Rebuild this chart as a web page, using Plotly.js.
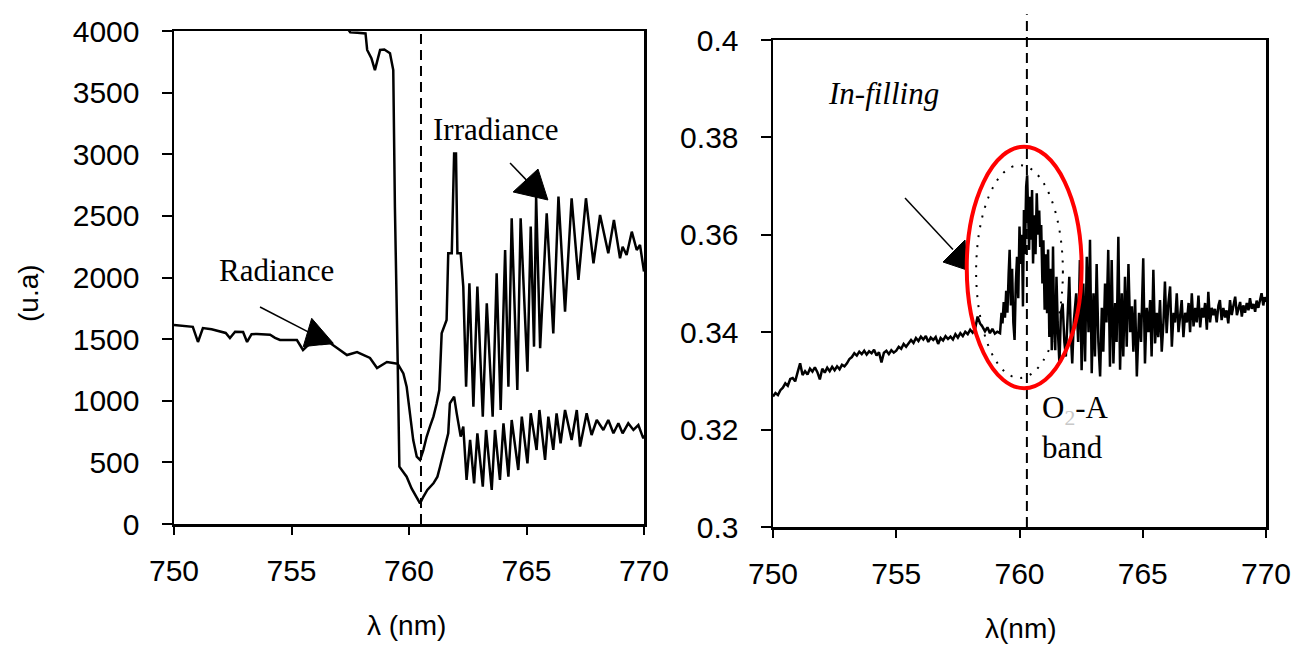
<!DOCTYPE html>
<html>
<head>
<meta charset="utf-8">
<script src="https://cdn.plot.ly/plotly-3.0.1.min.js"></script>
<style>html,body{margin:0;padding:0;background:#fff;}#chart{width:1292px;height:652px;}</style>
</head>
<body>
<div id="chart"></div>
<script>
// ---------- Left panel: Irradiance (upper curve) ----------
const irrWl = [750.0,751.0,752.0,753.0,754.0,755.0,756.0,756.8,757.3,757.5,757.8,758.15,758.22,758.4,758.55,758.65,758.77,758.95,759.19,759.33,759.4,759.52,
 759.76,759.9,760.04,760.18,760.33,760.47,760.61,760.75,760.89,761.04,761.18,761.29,761.39,761.5,761.6,761.67,761.82,761.92,762.0,762.06,762.2,762.31,
 762.43,762.57,762.74,762.91,763.14,763.31,763.56,763.73,763.9,764.09,764.23,764.37,764.61,764.75,765.04,765.18,765.32,765.41,765.58,765.86,766.14,766.36,
 766.64,766.92,767.21,767.53,767.85,768.13,768.48,768.72,768.98,769.09,769.26,769.48,769.69,769.83,770.0];
const irrVal = [4940,4800,4660,4540,4430,4330,4240,4130,4040,3990,3985,3980,3846,3780,3683,3750,3846,3850,3819,3683,2574,1300,
 1222,1114,898,681,546,519,600,708,790,871,979,1087,1547,1600,1655,2196,2196,3007,3007,2196,2196,1926,
 1114,1953,952,1926,871,1791,871,2034,925,2223,1114,2480,1087,2480,1236,2413,1439,2656,1426,2521,1547,2656,
 1723,2643,1980,2643,2115,2507,2196,2467,2156,2250,2183,2372,2223,2264,2048];

// ---------- Left panel: Radiance (lower curve) ----------
const radWl = [750.0,750.4,750.8,751.02,751.23,751.6,751.96,752.2,752.38,752.6,752.94,753.11,753.3,753.53,754.09,754.3,754.51,755.0,755.23,755.49,755.8,
 756.3,756.64,756.94,757.36,757.79,758.34,758.64,759.06,759.32,759.52,759.59,759.9,760.11,760.26,760.47,760.61,760.78,761.04,761.21,761.32,761.46,
 761.67,761.74,761.92,762.03,762.2,762.31,762.45,762.6,762.77,762.91,763.14,763.28,763.52,763.66,763.87,764.02,764.23,764.37,764.65,764.8,765.04,
 765.18,765.43,765.55,765.79,765.93,766.14,766.28,766.45,766.64,766.92,767.14,767.28,767.56,767.77,767.99,768.27,768.48,768.7,768.91,769.09,769.33,
 769.55,769.76,769.97,770.0];
const radVal = [1615,1610,1600,1477,1590,1580,1560,1550,1509,1560,1558,1477,1540,1542,1535,1510,1493,1490,1493,1412,1468,
 1460,1468,1428,1371,1395,1347,1266,1314,1306,1300,465,384,289,235,167,221,276,330,384,465,573,
 735,979,1033,898,709,790,357,682,330,736,303,763,276,763,357,817,384,844,438,871,492,
 898,601,925,520,871,601,898,655,925,682,925,628,898,722,844,763,844,736,817,736,817,
 763,803,695,720];

// ---------- Right panel: ratio (in-filling) ----------
const ratWl = [750.0,750.1,750.2,750.3,750.4,750.5,750.6,750.7,750.8,750.9,751.0,751.1,751.2,751.3,751.4,751.5,751.6,751.7,751.8,751.9,
 752.0,752.1,752.2,752.3,752.4,752.5,752.6,752.7,752.8,752.9,753.0,753.1,753.2,753.3,753.4,753.5,753.6,753.7,753.8,753.9,
 754.0,754.1,754.2,754.3,754.4,754.5,754.6,754.7,754.8,754.9,755.0,755.1,755.2,755.3,755.4,755.5,755.6,755.7,755.8,755.9,
 756.0,756.1,756.2,756.3,756.4,756.5,756.6,756.7,756.8,756.9,757.0,757.1,757.2,757.3,757.4,757.5,757.6,757.7,757.8,757.9,
 758.0,758.1,758.2,758.3,758.4,758.5,758.6,758.7,758.8,758.9,759.0,759.1,759.21,759.27,759.31,759.36,759.41,759.46,759.51,759.56,
 759.6,759.65,759.7,759.75,759.8,759.85,759.9,759.95,760.0,760.05,760.1,760.14,760.18,760.22,760.27,760.31,760.35,760.39,760.43,760.47,
 760.51,760.55,760.6,760.65,760.7,760.75,760.8,760.84,760.88,760.93,760.97,761.02,761.07,761.12,761.16,761.21,761.26,761.31,761.36,761.4,
 761.45,761.5,761.56,761.62,761.68,761.75,761.82,761.88,761.95,762.02,762.08,762.14,762.2,762.3,762.38,762.45,762.52,762.59,762.66,762.73,
 762.8,762.86,762.93,763.0,763.06,763.13,763.2,763.27,763.34,763.4,763.47,763.53,763.6,763.67,763.74,763.81,763.88,763.94,764.01,764.08,
 764.15,764.21,764.28,764.35,764.42,764.49,764.56,764.62,764.69,764.76,764.85,764.93,765.02,765.09,765.16,765.23,765.3,765.36,765.43,765.5,
 765.57,765.63,765.7,765.77,765.84,765.9,765.97,766.04,766.11,766.18,766.25,766.31,766.38,766.45,766.51,766.58,766.65,766.72,766.79,766.86,
 766.92,766.99,767.06,767.13,767.19,767.26,767.33,767.4,767.46,767.53,767.6,767.66,767.73,767.8,767.87,767.93,768.0,768.07,768.13,768.2,
 768.27,768.34,768.4,768.47,768.54,768.61,768.68,768.75,768.82,768.88,768.95,769.02,769.08,769.15,769.22,769.29,769.35,769.42,769.49,769.56,
 769.62,769.69,769.76,769.82,769.89,769.95,770.0];
const ratVal = [0.3268,0.3275,0.3271,0.3281,0.3286,0.3295,0.3290,0.3304,0.3306,0.3299,0.3318,0.3336,0.3312,0.3320,0.3313,0.3325,0.3319,0.3328,0.3318,0.3303,
 0.3325,0.3317,0.3327,0.3320,0.3329,0.3322,0.3330,0.3324,0.3333,0.3330,0.3336,0.3345,0.3349,0.3357,0.3352,0.3360,0.3355,0.3362,0.3354,0.3361,
 0.3357,0.3364,0.3352,0.3359,0.3338,0.3358,0.3362,0.3355,0.3363,0.3358,0.3362,0.3370,0.3366,0.3376,0.3370,0.3378,0.3384,0.3378,0.3388,0.3382,
 0.3391,0.3385,0.3392,0.3380,0.3389,0.3384,0.3390,0.3376,0.3388,0.3383,0.3392,0.3386,0.3391,0.3385,0.3396,0.3389,0.3398,0.3392,0.3401,0.3396,
 0.3405,0.3399,0.3407,0.3432,0.3418,0.3411,0.3402,0.3410,0.3398,0.3407,0.3397,0.3401,0.3398,0.3440,0.3418,0.3462,0.3430,0.3485,0.3440,0.3520,
 0.3569,0.3455,0.3530,0.3420,0.3384,0.3500,0.3555,0.3470,0.3617,0.3540,0.3600,0.3453,0.3651,0.3560,0.3699,0.3722,0.3600,0.3569,0.3678,0.3590,
 0.3692,0.3541,0.3640,0.3560,0.3685,0.3600,0.3650,0.3575,0.3620,0.3500,0.3589,0.3446,0.3560,0.3439,0.3570,0.3390,0.3530,0.3363,0.3576,0.3420,
 0.3363,0.3514,0.3400,0.3336,0.3440,0.3459,0.3380,0.3350,0.3430,0.3514,0.3400,0.3336,0.3420,0.3480,0.3380,0.3548,0.3322,0.3500,0.3340,0.3555,
 0.3400,0.3590,0.3316,0.3480,0.3350,0.3540,0.3380,0.3309,0.3450,0.3360,0.3500,0.3420,0.3569,0.3329,0.3548,0.3336,0.3460,0.3380,0.3596,0.3323,
 0.3480,0.3350,0.3514,0.3370,0.3540,0.3400,0.3453,0.3360,0.3467,0.3309,0.3440,0.3380,0.3552,0.3336,0.3450,0.3400,0.3466,0.3350,0.3528,0.3377,
 0.3440,0.3390,0.3466,0.3360,0.3420,0.3504,0.3398,0.3460,0.3494,0.3370,0.3440,0.3420,0.3480,0.3400,0.3430,0.3466,0.3390,0.3440,0.3420,0.3460,
 0.3400,0.3480,0.3412,0.3450,0.3420,0.3475,0.3410,0.3450,0.3430,0.3460,0.3405,0.3483,0.3420,0.3450,0.3435,0.3448,0.3420,0.3455,0.3466,0.3425,
 0.3450,0.3430,0.3445,0.3418,0.3466,0.3435,0.3455,0.3473,0.3435,0.3450,0.3462,0.3432,0.3455,0.3440,0.3460,0.3445,0.3470,0.3448,0.3458,0.3442,
 0.3465,0.3450,0.3470,0.3480,0.3455,0.3472,0.3462];

// ---------- Axis ticks ----------
const xTicks = [750, 755, 760, 765, 770];
const yLeftTicks = [0, 500, 1000, 1500, 2000, 2500, 3000, 3500, 4000];
const yRightTicks = [0.3, 0.32, 0.34, 0.36, 0.38, 0.4];
const yRightLabels = ['0.3', '0.32', '0.34', '0.36', '0.38', '0.4'];

const sans = 'Liberation Sans, Arial, sans-serif';
const serif = 'Liberation Serif, Times New Roman, serif';
const tickFont = {family: sans, size: 30, color: '#000'};

const lineLeft = {color: '#000', width: 2.5};
const lineRight = {color: '#000', width: 2.5};
const traces = [
  {x: irrWl, y: irrVal, type: 'scatter', mode: 'lines', line: lineLeft, xaxis: 'x', yaxis: 'y', name: 'Irradiance'},
  {x: radWl, y: radVal, type: 'scatter', mode: 'lines', line: lineLeft, xaxis: 'x', yaxis: 'y', name: 'Radiance'},
  {x: ratWl, y: ratVal, type: 'scatter', mode: 'lines', line: lineRight, xaxis: 'x2', yaxis: 'y2', name: 'In-filling'}
];

const W = 1292, H = 652;
const axCommon = {
  showline: true, mirror: true, linecolor: '#000', linewidth: 2.5,
  ticks: 'outside', tickcolor: '#000', tickwidth: 2,
  showgrid: false, zeroline: false, tickfont: tickFont, fixedrange: true
};

const layout = {
  width: W, height: H,
  margin: {l: 0, r: 0, t: 0, b: 0},
  paper_bgcolor: '#fff', plot_bgcolor: '#fff',
  showlegend: false,
  xaxis: Object.assign({}, axCommon, {domain: [174/W, 644/W], range: [750, 770], tickvals: xTicks, ticklen: 8, ticklabelstandoff: 10, anchor: 'y'}),
  yaxis: Object.assign({}, axCommon, {domain: [(H-524)/H, (H-31)/H], range: [0, 4000], tickvals: yLeftTicks, ticklen: 10, ticklabelstandoff: 16, anchor: 'x'}),
  xaxis2: Object.assign({}, axCommon, {domain: [773/W, 1266/W], range: [750, 770], tickvals: xTicks, ticklen: 8, ticklabelstandoff: 10, anchor: 'y2'}),
  yaxis2: Object.assign({}, axCommon, {domain: [(H-527)/H, (H-40)/H], range: [0.3, 0.4], tickvals: yRightTicks, ticktext: yRightLabels, ticklen: 10, ticklabelstandoff: 16, anchor: 'x2'}),
  shapes: [
    {type: 'line', xref: 'x', yref: 'y domain', x0: 760.51, x1: 760.51, y0: 0, y1: 1, line: {color: '#000', width: 2, dash: '10px,6px'}},
    {type: 'line', xref: 'x2', yref: 'y2 domain', x0: 760.3, x1: 760.3, y0: 0, y1: 1.053, line: {color: '#000', width: 2, dash: '10px,6px'}},
    // radiance arrow
    {type: 'line', xref: 'x', yref: 'y', x0: 753.66, y0: 1761, x1: 755.75, y1: 1555, line: {color: '#000', width: 1.5}},
    {type: 'path', xref: 'x', yref: 'y', path: 'M 755.86 1669 L 755.50 1439 L 756.78 1466 Z', fillcolor: '#000', line: {color: '#000', width: 1}},
    // irradiance arrow
    {type: 'line', xref: 'x', yref: 'y', x0: 764.30, y0: 2929, x1: 765.0, y1: 2790, line: {color: '#000', width: 1.5}},
    {type: 'path', xref: 'x', yref: 'y', path: 'M 765.49 2880 L 764.43 2694 L 765.91 2629 Z', fillcolor: '#000', line: {color: '#000', width: 1}},
    // in-filling arrow
    {type: 'line', xref: 'x2', yref: 'y2', x0: 755.355, y0: 0.36756, x1: 757.30, y1: 0.3570, line: {color: '#000', width: 1.5}},
    {type: 'path', xref: 'x2', yref: 'y2', path: 'M 757.789 0.35893 L 756.897 0.35441 L 757.870 0.35277 Z', fillcolor: '#000', line: {color: '#000', width: 1}},
    // dotted ellipse
    {type: 'circle', xref: 'x2', yref: 'y2', x0: 758.24, x1: 761.76, y0: 0.3306, y1: 0.3743, line: {color: '#000', width: 2, dash: '2px,8px'}},
    // red ellipse
    {type: 'circle', xref: 'x2', yref: 'y2', x0: 757.86, x1: 762.52, y0: 0.3285, y1: 0.3781, line: {color: '#ff0000', width: 4}}
  ],
  annotations: [
    {text: '(u.a)', xref: 'paper', yref: 'paper', x: 28/W, y: (H-293)/H, xanchor: 'center', yanchor: 'middle', textangle: -90, showarrow: false, font: {family: sans, size: 28, color: '#000'}},
    {text: 'λ (nm)', xref: 'paper', yref: 'paper', x: 407/W, y: (H-625)/H, xanchor: 'center', yanchor: 'middle', showarrow: false, font: {family: sans, size: 28, color: '#000'}},
    {text: 'λ(nm)', xref: 'paper', yref: 'paper', x: 1021/W, y: (H-628)/H, xanchor: 'center', yanchor: 'middle', showarrow: false, font: {family: sans, size: 28, color: '#000'}},
    {text: 'Radiance', xref: 'x', yref: 'y', x: 754.38, y: 2053, showarrow: false, font: {family: serif, size: 31, color: '#000'}},
    {text: 'Irradiance', xref: 'x', yref: 'y', x: 763.70, y: 3197, showarrow: false, font: {family: serif, size: 31, color: '#000'}},
    {text: '<i>In-filling</i>', xref: 'x2', yref: 'y2', x: 754.50, y: 0.3891, showarrow: false, font: {family: serif, size: 31, color: '#000'}},
    {text: 'O<sub><span style="color:#c8c8c8">2</span></sub>-A<br>band', xref: 'x2', yref: 'y2', x: 760.83, y: 0.3204, xanchor: 'left', align: 'left', showarrow: false, font: {family: serif, size: 31, color: '#000'}}
  ]
};

Plotly.newPlot('chart', traces, layout, {displayModeBar: false, staticPlot: true});
</script>
</body>
</html>
